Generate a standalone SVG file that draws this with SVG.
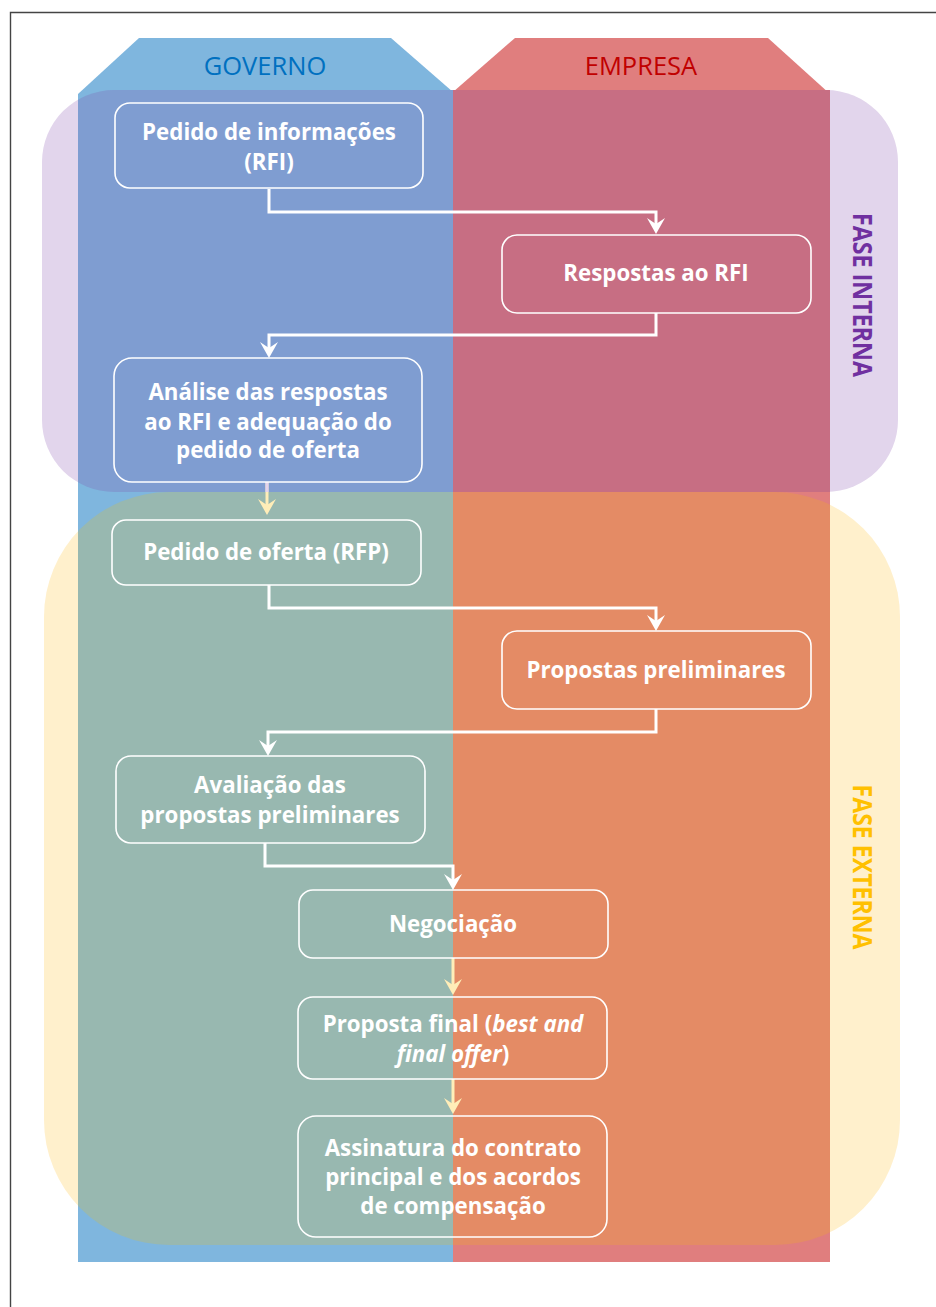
<svg xmlns="http://www.w3.org/2000/svg" width="936" height="1307" viewBox="0 0 936 1307">
<style>
.node{fill:none;stroke:#ffffff;stroke-width:1.6}
.t{font-family:"Open Sans","DejaVu Sans",sans-serif;font-weight:bold;font-size:22.3px;fill:#ffffff;text-anchor:middle}
.lane{font-family:"Open Sans","DejaVu Sans",sans-serif;font-size:25.5px;text-anchor:middle}
.phase{font-family:"Open Sans","DejaVu Sans",sans-serif;font-weight:bold;font-size:27px;text-anchor:middle}
.cw{fill:none;stroke:#ffffff;stroke-width:3}
.cy{fill:none;stroke:#FFEDB8;stroke-width:3}
</style>
<defs>
<marker id="aw" markerUnits="userSpaceOnUse" viewBox="-1 -10 18 20" markerWidth="18" markerHeight="20" refX="6" refY="0" orient="auto">
<path d="M0,-9 L16,0 L0,9 L6,0 z" fill="#ffffff"/>
</marker>
<marker id="ay" markerUnits="userSpaceOnUse" viewBox="-1 -10 18 20" markerWidth="18" markerHeight="20" refX="6" refY="0" orient="auto">
<path d="M0,-9 L16,0 L0,9 L6,0 z" fill="#FFEDB8"/>
</marker>
<clipPath id="clipG"><rect x="78" y="38" width="375" height="1224"/></clipPath>
<clipPath id="clipE"><rect x="453" y="38" width="377" height="1224"/></clipPath>
<rect id="phI" x="42" y="90" width="856" height="402" rx="72" ry="72"/>
<rect id="phE" x="44" y="492" width="856" height="753" rx="125" ry="125"/>
</defs>
<rect x="0" y="0" width="936" height="1307" fill="#ffffff"/>
<path d="M10.5,1307 V12.5 H936" fill="none" stroke="#444444" stroke-width="1.4"/>
<g id="phases-base">
<use href="#phI" fill="#E2D5EC"/>
<use href="#phE" fill="#FFF0CC"/>
</g>
<g id="lane-governo">
<polygon points="139,38 391,38 453,92 453,1262 78,1262 78,94" fill="#7FB6DE"/>
<text class="lane" x="265" y="75" fill="#0070C0">GOVERNO</text>
</g>
<g id="lane-empresa">
<polygon points="515,38 768,38 830,94 830,1262 453,1262 453,92" fill="#E07E7E"/>
<text class="lane" x="641" y="75" fill="#C00000">EMPRESA</text>
</g>
<g id="phase-overlaps">
<use href="#phI" fill="#7F9DD1" clip-path="url(#clipG)"/>
<use href="#phI" fill="#C76E83" clip-path="url(#clipE)"/>
<use href="#phE" fill="#98B8B0" clip-path="url(#clipG)"/>
<use href="#phE" fill="#E48B65" clip-path="url(#clipE)"/>
</g>
<g id="phase-labels">
<text class="phase" fill="#7030A0" transform="translate(853,295) rotate(90)" textLength="164" lengthAdjust="spacingAndGlyphs">FASE INTERNA</text>
<text class="phase" fill="#FFC000" transform="translate(853,867) rotate(90)" textLength="165" lengthAdjust="spacingAndGlyphs">FASE EXTERNA</text>
</g>
<g id="connectors">
<path class="cw" d="M269,189 V212 H656 V224" marker-end="url(#aw)"/>
<path class="cw" d="M656,313 V335 H269 V348" marker-end="url(#aw)"/>
<path class="cy" d="M267,482 V505" marker-end="url(#ay)"/>
<path d="M267,482 V492" fill="none" stroke="#E3D3EE" stroke-width="3"/>
<path class="cw" d="M269,585 V608 H656 V621" marker-end="url(#aw)"/>
<path class="cw" d="M656,709 V732 H268 V746" marker-end="url(#aw)"/>
<path class="cw" d="M265,843 V866 H453 V880" marker-end="url(#aw)"/>
<path class="cy" d="M453,958 V985" marker-end="url(#ay)"/>
<path class="cy" d="M453,1079 V1104" marker-end="url(#ay)"/>
</g>
<g id="n1">
<rect class="node" x="115" y="103" width="308" height="85" rx="15"/>
<text class="t" x="269" y="140">Pedido de informações</text>
<text class="t" x="269" y="170">(RFI)</text>
</g>
<g id="n2">
<rect class="node" x="502" y="235" width="309" height="78" rx="15"/>
<text class="t" x="656" y="281">Respostas ao RFI</text>
</g>
<g id="n3">
<rect class="node" x="114" y="358" width="308" height="124" rx="18"/>
<text class="t" x="268" y="400">Análise das respostas</text>
<text class="t" x="268" y="430">ao RFI e adequação do</text>
<text class="t" x="268" y="458">pedido de oferta</text>
</g>
<g id="n4">
<rect class="node" x="112" y="520" width="309" height="65" rx="14"/>
<text class="t" x="266" y="560">Pedido de oferta (RFP)</text>
</g>
<g id="n5">
<rect class="node" x="502" y="631" width="309" height="78" rx="15"/>
<text class="t" x="656" y="678">Propostas preliminares</text>
</g>
<g id="n6">
<rect class="node" x="116" y="756" width="309" height="87" rx="15"/>
<text class="t" x="270" y="793">Avaliação das</text>
<text class="t" x="270" y="823">propostas preliminares</text>
</g>
<g id="n7">
<rect class="node" x="299" y="890" width="309" height="68" rx="14"/>
<text class="t" x="453" y="932">Negociação</text>
</g>
<g id="n8">
<rect class="node" x="298" y="997" width="309" height="82" rx="15"/>
<text class="t" x="453" y="1032">Proposta final (<tspan font-style="italic">best and</tspan></text>
<text class="t" x="453" y="1062"><tspan font-style="italic">final offer</tspan>)</text>
</g>
<g id="n9">
<rect class="node" x="298" y="1116" width="309" height="121" rx="18"/>
<text class="t" x="453" y="1156">Assinatura do contrato</text>
<text class="t" x="453" y="1185">principal e dos acordos</text>
<text class="t" x="453" y="1214">de compensação</text>
</g>
</svg>
